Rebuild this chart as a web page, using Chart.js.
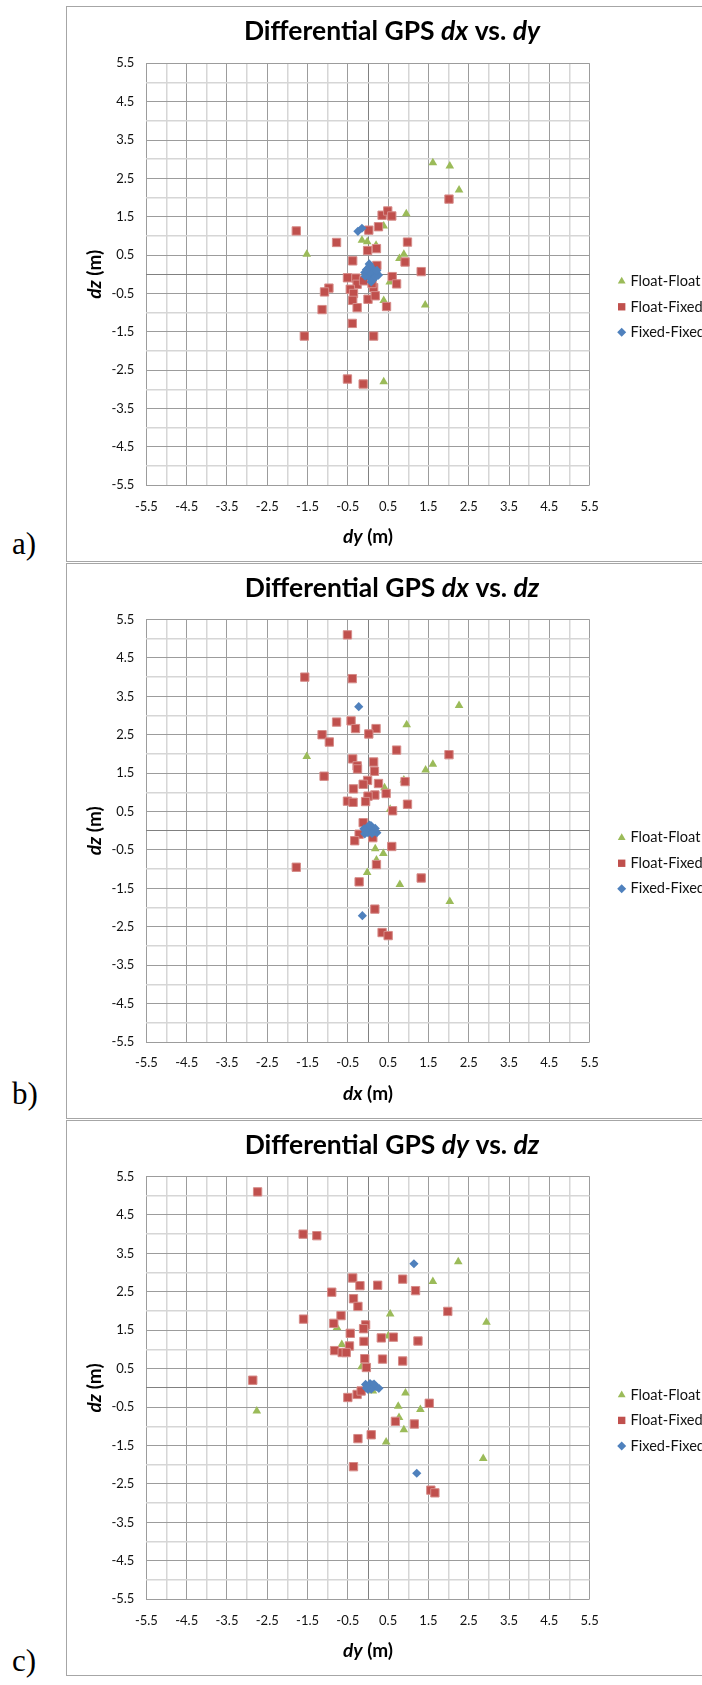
<!DOCTYPE html>
<html>
<head>
<meta charset="utf-8">
<script src="https://cdn.jsdelivr.net/npm/chart.js@4.4.0/dist/chart.umd.min.js"></script>
<style>
  body { margin: 0; background: #fff; width: 702px; height: 1685px; position: relative; overflow: hidden; }
  .frame { position: absolute; left: 66px; width: 700px; border: 1px solid #a6a6a6; }
  .tag { position: absolute; left: 12px; font-family: "Liberation Serif", serif; font-size: 31px; line-height: 31px; color: #000; }
  canvas { position: absolute; left: 0; }
</style>
</head>
<body>
<div class="frame" style="top:6px;height:554px"></div>
<div class="frame" style="top:563px;height:554px"></div>
<div class="frame" style="top:1120px;height:554px"></div>
<div class="tag" style="top:528px">a)</div>
<div class="tag" style="top:1078px">b)</div>
<div class="tag" style="top:1645px">c)</div>
<canvas id="chartA" width="702" height="562" style="top:0px"></canvas>
<canvas id="chartB" width="702" height="560" style="top:560px"></canvas>
<canvas id="chartC" width="702" height="565" style="top:1120px"></canvas>
<script>
// grid lines every 0.5 m, labels only on the x.5 lines
const gridValues = [-5.5, -5, -4.5, -4, -3.5, -3, -2.5, -2, -1.5, -1, -0.5, 0, 0.5, 1, 1.5, 2, 2.5, 3, 3.5, 4, 4.5, 5, 5.5];
const seriesNames = ['Float-Float', 'Float-Fixed', 'Fixed-Fixed'];

// a) dy (x) vs dz (y)
const aFloatFloat = [[1.61, 2.91], [2.03, 2.82], [2.26, 2.20], [0.95, 1.58], [0.39, 1.26], [-0.15, 0.89], [-0.02, 0.85],
  [0.20, 0.76], [-1.52, 0.52], [0.89, 0.52], [0.78, 0.41], [0.54, -0.20], [0.39, -0.68], [1.42, -0.80], [0.39, -2.80]];
const aFloatFixed = [[-1.78, 1.13], [-0.78, 0.83], [-0.38, 0.35], [0.02, 1.15], [0.26, 1.24], [0.35, 1.54], [0.49, 1.65],
  [0.59, 1.52], [2.01, 1.96], [0.98, 0.84], [0.21, 0.67], [-0.01, 0.62], [0.22, 0.23], [0.92, 0.32], [1.32, 0.07],
  [0.60, -0.06], [0.71, -0.25], [-0.51, -0.09], [-0.30, -0.10], [-0.27, -0.26], [-0.44, -0.39], [-0.36, -0.50],
  [-0.38, -0.68], [-0.97, -0.36], [-1.08, -0.46], [-1.14, -0.92], [-0.27, -0.87], [0.00, -0.65], [0.14, -0.35],
  [0.18, -0.56], [0.46, -0.84], [-0.39, -1.28], [-1.58, -1.61], [0.14, -1.61], [-0.51, -2.73], [-0.12, -2.86],
  [-0.11, -0.17], [0.10, -0.24]];
const aFixedFixed = [[-0.25, 1.12], [-0.15, 1.20], [0.03, 0.27], [0.00, 0.15], [0.08, 0.12], [-0.08, 0.05], [0.00, 0.00],
  [0.10, 0.00], [0.20, 0.05], [0.26, -0.02], [0.05, -0.10], [0.12, -0.14], [-0.07, -0.05], [0.15, 0.10], [0.03, 0.05],
  [0.05, 0.22], [0.18, -0.08], [-0.04, 0.12], [0.08, -0.20], [0.22, 0.10]];

// b) dx (x) vs dz (y)
const bFloatFloat = [[2.26, 3.26], [0.96, 2.76], [-1.52, 1.93], [1.61, 1.73], [1.43, 1.58], [0.89, 1.32], [0.41, 1.12],
  [0.55, 0.56], [-0.12, -0.07], [0.18, -0.47], [0.38, -0.59], [0.21, -0.76], [-0.02, -1.09], [0.79, -1.40], [2.03, -1.84]];
const bFloatFixed = [[-0.51, 5.10], [-1.57, 4.00], [-0.39, 3.96], [-0.78, 2.83], [-0.42, 2.86], [-0.31, 2.66], [0.20, 2.66],
  [0.02, 2.52], [-1.14, 2.50], [-0.96, 2.31], [0.71, 2.10], [2.01, 1.98], [-0.38, 1.87], [0.14, 1.79], [-0.27, 1.69],
  [-0.26, 1.61], [0.16, 1.55], [-1.09, 1.42], [-0.01, 1.31], [-0.12, 1.21], [0.26, 1.23], [0.92, 1.28], [0.45, 0.97],
  [0.17, 0.93], [0.00, 0.90], [-0.36, 1.09], [-0.51, 0.77], [-0.37, 0.74], [-0.06, 0.76], [0.98, 0.69], [0.61, 0.52],
  [-0.12, 0.21], [-0.22, -0.09], [-0.33, -0.26], [0.12, -0.18], [0.59, -0.41], [-1.78, -0.95], [0.21, -0.88],
  [1.32, -1.23], [-0.22, -1.33], [0.17, -2.04], [0.35, -2.65], [0.50, -2.73]];
const bFixedFixed = [[-0.23, 3.23], [-0.14, -2.21], [-0.10, 0.05], [0.00, 0.10], [0.08, 0.13], [0.05, 0.00], [0.10, 0.05],
  [0.00, -0.05], [0.15, -0.02], [0.22, -0.05], [-0.06, 0.00], [0.10, -0.07], [0.04, 0.15], [-0.08, -0.08], [0.18, 0.06]];

// c) dy (x) vs dz (y)
const cFloatFloat = [[2.24, 3.28], [1.61, 2.77], [0.55, 1.92], [2.94, 1.71], [-0.77, 1.57], [0.50, 1.35], [-0.65, 1.13],
  [-0.16, 0.55], [0.12, -0.08], [0.93, -0.13], [-2.76, -0.60], [0.75, -0.48], [1.30, -0.56], [0.77, -0.77],
  [0.89, -1.09], [0.45, -1.41], [2.86, -1.84]];
const cFloatFixed = [[-2.74, 5.10], [-1.61, 4.00], [-1.27, 3.96], [-0.38, 2.86], [-0.20, 2.66], [0.24, 2.67], [0.86, 2.83],
  [1.18, 2.53], [-0.90, 2.49], [-0.36, 2.32], [-0.25, 2.12], [1.98, 1.99], [-1.60, 1.79], [-0.67, 1.88], [-0.85, 1.68],
  [-0.06, 1.64], [-0.11, 1.54], [-0.44, 1.42], [0.33, 1.30], [0.63, 1.32], [1.24, 1.22], [-0.10, 1.21], [-0.46, 1.09],
  [-0.83, 0.97], [-0.64, 0.92], [-0.54, 0.92], [-0.08, 0.76], [0.36, 0.75], [0.86, 0.70], [-0.04, 0.53], [-2.86, 0.20],
  [-0.50, -0.25], [-0.27, -0.17], [-0.17, -0.08], [1.52, -0.40], [0.68, -0.87], [1.15, -0.94], [-0.25, -1.32],
  [0.08, -1.22], [-0.36, -2.05], [1.56, -2.66], [1.66, -2.73]];
const cFixedFixed = [[1.14, 3.23], [1.21, -2.22], [-0.06, 0.09], [0.00, 0.03], [0.05, 0.11], [0.10, 0.08], [0.12, 0.02],
  [0.20, 0.03], [0.27, -0.01], [0.00, -0.04], [0.08, -0.03], [-0.04, 0.00], [0.15, 0.10]];

const FONT = 'Lato, "Open Sans", sans-serif';
Chart.defaults.font.family = FONT;

const seriesStyle = [
  { pointStyle: 'triangle', pointRadius: 5, backgroundColor: '#9BBB59', borderColor: '#9BBB59', borderWidth: 0, order: 2 },
  { pointStyle: 'rect', pointRadius: 5.9, backgroundColor: '#C0504D', borderColor: '#D68C89', borderWidth: 1, order: 1 },
  { pointStyle: 'rectRot', pointRadius: 4.6, backgroundColor: '#4F81BD', borderColor: '#4F81BD', borderWidth: 0, order: 0 }
];

// draw text made of bold / bold-italic pieces, centred on x
function drawParts(ctx, parts, x, y, size) {
  const fonts = parts.map(p => (p[1] ? 'italic ' : '') + 'bold ' + size + 'px ' + FONT);
  let total = 0;
  parts.forEach((p, i) => { ctx.font = fonts[i]; total += ctx.measureText(p[0]).width; });
  let cx = x - total / 2;
  ctx.textAlign = 'left';
  parts.forEach((p, i) => {
    ctx.font = fonts[i];
    ctx.fillText(p[0], cx, y);
    cx += ctx.measureText(p[0]).width;
  });
}

const decorations = {
  id: 'decorations',
  afterDraw(chart, args, opts) {
    const ctx = chart.ctx;
    const area = chart.chartArea;
    const midX = (area.left + area.right) / 2;
    const midY = (area.top + area.bottom) / 2;
    ctx.save();
    ctx.fillStyle = '#000';
    ctx.textBaseline = 'alphabetic';
    drawParts(ctx, opts.title, 392, area.top - 23, 26.5);
    drawParts(ctx, opts.xTitle, midX, area.bottom + 58, 19);
    ctx.save();
    ctx.translate(101, midY);
    ctx.rotate(-Math.PI / 2);
    drawParts(ctx, opts.yTitle, 0, 0, 19);
    ctx.restore();

    // legend
    const rows = [7, 32.5, 58];
    seriesNames.forEach((name, i) => {
      const st = seriesStyle[i];
      const y = midY + rows[i];
      ctx.fillStyle = st.backgroundColor;
      Chart.helpers.drawPoint(ctx, { pointStyle: st.pointStyle, radius: st.pointStyle === 'rect' ? 5.2 : 4.5, borderWidth: 0, rotation: 0 }, 621.7, y);
      ctx.fillStyle = '#111';
      ctx.font = '14.6px ' + FONT;
      ctx.textAlign = 'left';
      ctx.textBaseline = 'middle';
      ctx.fillText(name, 630.5, y);
    });
    ctx.restore();
  }
};

function gridColor(v) {
  if (v === 0) return '#808080';
  return Number.isInteger(v) ? '#d6d6d6' : '#9c9c9c';
}

function axis(horizontal) {
  return {
    type: 'linear',
    min: -5.5,
    max: 5.5,
    afterBuildTicks: s => { s.ticks = gridValues.map(v => ({ value: v })); },
    afterFit: s => { if (horizontal) s.height = 40; else s.width = 40; },
    ticks: {
      autoSkip: false,
      maxRotation: 0,
      padding: horizontal ? 13.5 : 12,
      color: '#111',
      font: { size: 13 },
      callback: v => Number.isInteger(v) ? '' : v.toFixed(1)
    },
    grid: {
      drawTicks: false,
      color: c => gridColor(c.tick.value),
      lineWidth: c => (Number.isInteger(c.tick.value) && c.tick.value !== 0) ? 1.5 : 1
    },
    border: { display: false }
  };
}

function makeChart(id, sets, labels, geo) {
  const datasets = sets.map((pts, i) => Object.assign({
    label: seriesNames[i],
    data: pts.map(p => ({ x: p[0], y: p[1] }))
  }, seriesStyle[i]));
  const canvas = document.getElementById(id);
  return new Chart(canvas, {
    type: 'scatter',
    data: { datasets: datasets },
    options: {
      responsive: false,
      animation: false,
      events: [],
      layout: {
        padding: {
          left: 146.4 - 40,
          right: 702 - 589.6,
          top: geo.plotTop - geo.top,
          bottom: canvas.height - 40 - (geo.plotBottom - geo.top)
        }
      },
      plugins: {
        legend: { display: false },
        tooltip: { enabled: false },
        decorations: labels
      },
      scales: { x: axis(true), y: axis(false) }
    },
    plugins: [decorations]
  });
}

makeChart('chartA', [aFloatFloat, aFloatFixed, aFixedFixed], {
  title: [['Differential GPS ', false], ['dx', true], [' vs. ', false], ['dy', true]],
  xTitle: [['dy', true], [' (m)', false]],
  yTitle: [['dz', true], [' (m)', false]]
}, { top: 0, plotTop: 63.3, plotBottom: 485.3 });

makeChart('chartB', [bFloatFloat, bFloatFixed, bFixedFixed], {
  title: [['Differential GPS ', false], ['dx', true], [' vs. ', false], ['dz', true]],
  xTitle: [['dx', true], [' (m)', false]],
  yTitle: [['dz', true], [' (m)', false]]
}, { top: 560, plotTop: 619.5, plotBottom: 1042 });

makeChart('chartC', [cFloatFloat, cFloatFixed, cFixedFixed], {
  title: [['Differential GPS ', false], ['dy', true], [' vs. ', false], ['dz', true]],
  xTitle: [['dy', true], [' (m)', false]],
  yTitle: [['dz', true], [' (m)', false]]
}, { top: 1120, plotTop: 1176.5, plotBottom: 1599.3 });
</script>
</body>
</html>
